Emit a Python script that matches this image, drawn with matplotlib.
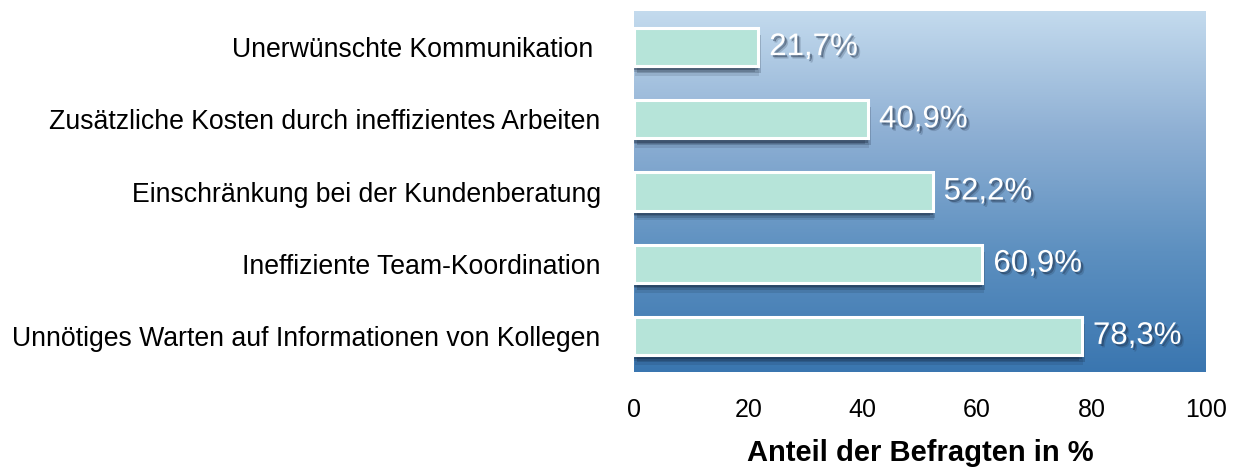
import numpy as np
import matplotlib
matplotlib.use("Agg")
import matplotlib.pyplot as plt
import matplotlib.patheffects as pe
from matplotlib.colors import LinearSegmentedColormap

# Data (top to bottom as in the chart)
categories = [
    "Unerwünschte Kommunikation ",
    "Zusätzliche Kosten durch ineffizientes Arbeiten",
    "Einschränkung bei der Kundenberatung",
    "Ineffiziente Team-Koordination",
    "Unnötiges Warten auf Informationen von Kollegen",
]
values = [21.7, 40.9, 52.2, 60.9, 78.3]
value_labels = ["21,7%", "40,9%", "52,2%", "60,9%", "78,3%"]
xticks = [0, 20, 40, 60, 80, 100]

plt.rcParams["font.family"] = ["Liberation Sans", "DejaVu Sans"]

fig = plt.figure(figsize=(12.38, 4.68), dpi=100)
ax = fig.add_axes([0.5121, 0.2051, 0.4620, 0.7714])

# Background gradient, light blue at top to darker blue at bottom
bg_cmap = LinearSegmentedColormap.from_list(
    "bg", ["#3a76b0", "#5d90c0", "#8fb0d4", "#c4dbee"])
grad = np.linspace(0, 1, 256).reshape(-1, 1)
ax.imshow(grad, cmap=bg_cmap, origin="lower", aspect="auto",
          extent=[0, 1, 0, 1], transform=ax.transAxes, zorder=0)

y = np.arange(len(categories))[::-1]

# Soft drop shadows under the bars (stacked to fake a blur)
shadow = [
    pe.SimplePatchShadow(offset=(1, -7), shadow_rgbFace="#0d1a2e", alpha=0.12),
    pe.SimplePatchShadow(offset=(2, -5), shadow_rgbFace="#0d1a2e", alpha=0.2),
    pe.SimplePatchShadow(offset=(-2, -4), shadow_rgbFace="#0d1a2e", alpha=0.18),
    pe.SimplePatchShadow(offset=(0, -3), shadow_rgbFace="#0d1a2e", alpha=0.3),
    pe.Normal(),
]
bars = ax.barh(y, values, height=0.53, color="#b6e4d9", edgecolor="white",
               linewidth=2.2, zorder=2)
for b in bars:
    b.set_path_effects(shadow)

text_shadow = [
    pe.SimplePatchShadow(offset=(1.5, -1.5), shadow_rgbFace="#1c2c44", alpha=0.45),
    pe.SimplePatchShadow(offset=(2.5, -2.5), shadow_rgbFace="#1c2c44", alpha=0.2),
    pe.Normal(),
]
for yi, v, lab in zip(y, values, value_labels):
    ax.annotate(lab, (v, yi), xytext=(8, 0), textcoords="offset points",
                va="center", ha="left", fontsize=22.5, color="white",
                path_effects=text_shadow, zorder=3)

ax.set_xlim(0, 100)
ax.set_ylim(-0.5, 4.5)
ax.set_xticks(xticks)
ax.set_xticklabels([str(t) for t in xticks])
ax.set_yticks(y)
ax.set_yticklabels(categories)
ax.tick_params(axis="x", length=0, pad=19, labelsize=18)
ax.tick_params(axis="y", length=0, pad=24, labelsize=19.2)
for s in ax.spines.values():
    s.set_visible(False)

ax.set_xlabel("Anteil der Befragten in %", fontsize=21, fontweight="bold",
              labelpad=12)

fig.savefig("out.png", dpi=100)
